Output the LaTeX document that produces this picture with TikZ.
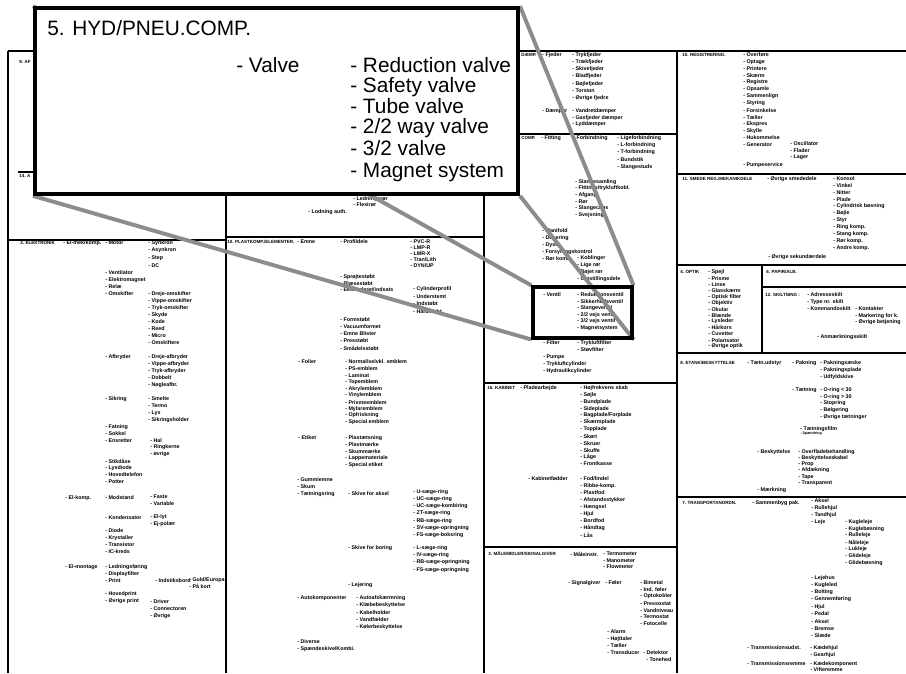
\documentclass[tikz,border=0pt]{standalone}
\usepackage{fontspec}
\setmainfont{Liberation Sans}
\usepackage{tikz}
\usetikzlibrary{positioning}
\definecolor{LinkGray}{RGB}{140,140,140}
\pgfdeclarelayer{links}
\pgfdeclarelayer{front}
\pgfsetlayers{main,links,front}

% one column of list entries: prefix, x, first y, step, items
\newcommand{\entries}[5]{%
  \foreach \e [count=\k from 0] in {#5}
    \node[entry] (#1\k) at (#2,{#3+#4*\k}) {- \e};%
}

\begin{document}
\begin{tikzpicture}[x=0.025cm, y=-0.025cm,
    entry/.style={anchor=west, inner sep=0pt, font=\fontsize{3.8}{4}\selectfont\bfseries},
    head/.style={entry, font=\fontsize{3.2}{3.6}\selectfont\bfseries},
    pageline/.style={line width=0.9pt},
    zoombox/.style={draw, line width=2.6pt, fill=white,
        minimum width=12.08cm, minimum height=4.65cm},
    valvebox/.style={draw, line width=2.2pt, minimum width=2.475cm, minimum height=1.275cm},
    link/.style={line width=2.8pt, LinkGray},
    big/.style={anchor=base west, inner sep=0pt, font=\fontsize{14.8}{16}\selectfont},
]
\useasboundingbox (0,0) rectangle (906,673);
\clip (0,0) rectangle (906,673);

% page frame and section rules
\draw[pageline, line width=1.8pt] (8,51) -- (906,51);
\draw[pageline, line width=1.4pt] (8,51) -- (8,673);
\draw[pageline] (226,51) -- (226,673);
\draw[pageline] (484,51) -- (484,673);
\draw[pageline] (677,51) -- (677,673);
\draw[pageline] (18,172) -- (226,172);
\draw[pageline] (8,240) -- (226,240);
\draw[pageline] (226,237) -- (484,237);
\draw[pageline] (484,134) -- (677,134);
\draw[pageline] (484,383) -- (677,383);
\draw[pageline] (484,547) -- (677,547);
\draw[pageline] (677,174) -- (906,174);
\draw[pageline] (677,265) -- (906,265);
\draw[pageline] (762,265) -- (762,353);
\draw[pageline] (762,287) -- (906,287);
\draw[pageline] (677,353) -- (906,353);
\draw[pageline] (677,497) -- (906,497);

% column 1
\node[head] (c1a) at (19,62) {9. AF};
\node[head] (c1b) at (19,176) {14. A};
\node[head] (c1c) at (20,243) {2. ELEKTRONIK};
\node[entry] (c1d) at (63,243) {- El-mek/komp.};
\node[entry] (c1e) at (105,243) {- Motor};
\entries{ma}{148}{243}{7.6}{Synkron, Asynkron, Step, DC}
\entries{mb}{105}{273}{7}{Ventilator, Elektromagnet, Relæ, Omskifter}
\entries{mc}{148}{294}{7}{Dreje-omskifter, Vippe-omskifter, Tryk-omskifter, Skyde, Kode, Reed, Micro, Omskiftere}
\node[entry] (c1f) at (105,357) {- Afbryder};
\entries{md}{148}{357}{7}{Dreje-afbryder, Vippe-afbryder, Tryk-afbryder, Dobbelt, Nøgleafbr.}
\node[entry] (c1g) at (105,399) {- Sikring};
\entries{me}{148}{399}{7}{Smelte, Termo, Lys, Sikringsholder}
\entries{mf}{105}{427}{7}{Fatning, Sokkel, Ensretter}
\entries{mg}{150}{441}{6.5}{Hal, Ringkerne, øvrige}
\entries{mh}{105}{461}{7}{Stikdåse, Lysdiode, Hovedtelefon, Potter}
\node[entry] (c1h) at (65,498) {- El-komp.};
\node[entry] (c1i) at (105,498) {- Modstand};
\entries{mi}{150}{497}{6.5}{Faste, Variable}
\node[entry] (c1j) at (105,518) {- Kondensator};
\entries{mj}{150}{517}{7}{El-lyt, Ej-polær}
\entries{mk}{105}{531}{7}{Diode, Krystaller, Transistor, IC-kreds}
\node[entry] (c1k) at (65,567) {- El-montage};
\entries{ml}{105}{567}{7}{Ledningsføring, Displayfilter, Print}
\node[entry] (c1l) at (155,581) {- Indstiksbord};
\entries{mm}{189}{580}{6.8}{Guld/Europa, På kort}
\entries{mn}{105}{594}{7.5}{Hovedprint, Øvrige print}
\entries{mo}{150}{602}{7}{Driver, Connectoren, Øvrige}

% column 2
\node[entry] (c2a) at (353,199) {- Ledningsrør};
\node[entry] (c2b) at (353,205) {- Flexirør};
\node[entry] (c2c) at (308,212) {- Lodning auth.};
\node[head] (c2d) at (227,242) {10. PLASTKOMP./ELEMENTER.};
\node[entry] (c2e) at (297,242) {- Emne};
\node[entry] (c2f) at (340,242) {- Profildele};
\entries{pa}{410}{242}{6}{PVC-R, LMP-R, LMR-X, Tran/Lith, DYN/UP}
\entries{pb}{340}{277}{6.2}{Sprøjtestøbt, Blæsestøbt, Ekstruderet/indsats}
\entries{pc}{413}{289}{7.5}{Cylinderprofil, Understemt, Indstøbt, Hårdstøbt}
\entries{pd}{340}{320}{7}{Formstøbt, Vacuumformet, Emne Blister, Presstøbt, Smådelsstøbt}
\node[entry] (c2g) at (298,362) {- Folier};
\entries{pe}{345}{362}{6.7}{Normal/selvkl. emblem, PS-emblem, Laminat, Topemblem, Akrylemblem, Vinylemblem, Prismeemblem, Mylaremblem, Opfriskning, Special emblem}
\node[entry] (c2h) at (298,438) {- Etiket};
\entries{pf}{345}{438}{6.8}{Plastætsning, Plastmærke, Skummærke, Lappemateriale, Special etiket}
\entries{pg}{297}{480}{7}{Gummiemne, Skum, Tætningsring}
\node[entry] (c2i) at (348,494) {- Skive for aksel};
\entries{ph}{413}{492}{7.2}{U-sæge-ring, UC-sæge-ring, UC-sæge-kombiring, ZT-sæge-ring, RB-sæge-ring, SV-sæge-opringning, FS-sæge-boksring}
\node[entry] (c2j) at (348,548) {- Skive for boring};
\entries{pi}{413}{548}{7.3}{L-sæge-ring, IV-sæge-ring, RB-sæge-opringning, FS-sæge-opringning}
\node[entry] (c2k) at (348,585) {- Lejering};
\node[entry] (c2l) at (297,598) {- Autokomponenter};
\entries{pj}{356}{598}{7.2}{Autoafskærmning, Klæbebeskyttelse, Kabelholder, Vandfælder, Kølerbeskyttelse}
\entries{pk}{297}{642}{7}{Diverse, Spændeskive/Kombi.}

% column 3
\node[head] (c3a) at (521,55) {DÆMP.};
\node[entry] (c3b) at (542,55) {- Fjeder};
\entries{fa}{572}{55}{7.2}{Trykfjeder, Trækfjeder, Skivefjeder, Bladfjeder, Bøjlefjeder, Torsion, Øvrige fjedre}
\node[entry] (c3c) at (542,111) {- Dæmper};
\entries{fb}{572}{111}{6.7}{Vandretdæmper, Gasfjeder dæmper, Lyddæmper}
\node[head] (c3d) at (521,138) {COMP.};
\node[entry] (c3e) at (541,138) {- Fitting};
\node[entry] (c3f) at (573,138) {- Forbindning};
\entries{fc}{617}{138}{7.2}{Ligeforbindning, L-forbindning, T-forbindning, Bundstik, Slangestuds}
\entries{fd}{575}{182}{6.6}{Slangesamling, Fittings/trykluftkobl., Afgang, Rør, Slangeclips, Svejsning}
\entries{fe}{542}{231}{6.9}{Manifold, Dosering, Dyse, Forsyningskontrol, Rør komb.}
\entries{ff}{577}{258}{7}{Koblinger, Lige rør, Bøjet rør, Omstillingsdele}
\node[entry] (c3g) at (543,295) {- Ventil};
\entries{fg}{577}{295}{6.6}{Reduktionsventil, Sikkerhedsventil, Slangeventil, 2/2 vejs ventil, 3/2 vejs ventil, Magnetsystem}
\node[entry] (c3h) at (543,343) {- Filter};
\entries{fh}{577}{343}{7}{Trykluftfilter, Støvfilter}
\entries{fi}{543}{357}{7}{Pumpe, Trykluftcylinder, Hydraulikcylinder}
\node[head] (c3i) at (487,388) {16. KABINET};
\node[entry] (c3j) at (520,388) {- Pladearbejde};
\entries{fj}{580}{388}{6.9}{Højfrekvens skab, Søjle, Bundplade, Sideplade, Bagplade/Forplade, Skærmplade, Topplade, Skørt, Skruer, Skuffe, Låge, Frontkasse}
\node[entry] (c3k) at (528,479) {- Kabinetfødder};
\entries{fk}{580}{479}{7}{Fod/lindel, Ribbe-komp., Plastfod, Afstandsstykker, Hængsel, Hjul, Bordfod, Håndtag, Lås}
\node[head] (c3l) at (488,554) {3. MÅLEMIDLER/SIGNALGIVER};
\node[entry] (c3m) at (570,554) {- Måleinstr.};
\entries{fl}{603}{554}{6.5}{Termometer, Manometer, Flowmeter}
\node[entry] (c3n) at (568,583) {- Signalgiver};
\node[entry] (c3o) at (605,583) {- Føler};
\entries{fm}{640}{583}{6.8}{Bimetal, Ind. føler, Optokobler, Pressostat, Vandniveau, Termostat, Fotocelle}
\entries{fn}{607}{632}{7}{Alarm, Højttaler, Tæller, Transducer}
\node[entry] (c3p) at (643,653) {- Detektor};
\node[entry] (c3q) at (646,660) {- Tonehed};

% column 4
\node[head] (c4a) at (682,55) {10. REGISTRERING.};
\entries{ra}{743}{55}{6.9}{Overføre, Optage, Printere, Skærm, Registre, Opsamle, Sammenlign, Styring, Forsinkelse, Tæller, Ekspres, Skylle, Hukommelse, Generator}
\entries{rb}{790}{144}{6.8}{Oscillator, Flader, Lager}
\node[entry] (c4b) at (743,165) {- Pumpeservice};
\node[head] (c4c) at (682,179) {11. SMEDE REG./MEKANIKDELE};
\node[entry] (c4d) at (767,179) {- Øvrige smededele};
\entries{sa}{833}{179}{6.9}{Konsol, Vinkel, Nitter, Plade, Cylindrisk bøsning, Bøjle, Styr, Ring komp., Stang komp., Rør komp., Andre komp.}
\node[entry] (c4e) at (768,257) {- Øvrige sekundærdele};
\node[head] (c4f) at (680,272) {4. OPTIK};
\entries{oa}{708}{272}{6.2}{Spejl, Prisme, Linse, Glasskærm, Optisk filter, Objektiv, Okular, Blænde, Lysleder, Hårkors, Cuvetter, Polarisator, Øvrige optik}
\node[head] (c4g) at (766,272) {6. PAPIR/ALB.};
\node[head] (c4h) at (765,295) {12. SKILTNING :};
\entries{ka}{807}{295}{6.7}{Adresseskilt, Type nr. skilt, Kommandoskilt}
\entries{kb}{855}{309}{6.7}{Kontakter, Markering for k., Øvrige betjening}
\node[entry] (c4i) at (817,337) {- Anmærkningsskilt};
\node[head] (c4j) at (680,363) {8. ETANK/BESKYTTELSE};
\node[entry] (c4k) at (747,363) {- Tætn.udstyr};
\node[entry] (c4l) at (792,363) {- Pakning};
\entries{ta}{820}{363}{7}{Pakningsæske, Pakningsplade, Udfyldskive}
\node[entry] (c4m) at (792,390) {- Tætning};
\entries{tb}{820}{390}{6.8}{O-ring < 30, O-ring > 30, Stopring, Bølgering, Øvrige tætninger}
\node[entry] (c4n) at (800,429) {- Tætningsfilm};
\node[entry, font=\fontsize{2.6}{3}\selectfont\bfseries] (c4o) at (800,434) {- Spændring};
\node[entry] (c4p) at (757,452) {- Beskyttelse};
\entries{ba}{798}{452}{6.2}{Overfladebehandling, Beskyttelseskabel, Prop, Afdækning, Tape, Transparent}
\node[entry] (c4q) at (757,490) {- Mærkning};
\node[head] (c4r) at (682,503) {7. TRANSPORTANORDN.};
\node[entry] (c4s) at (752,503) {- Sammenbyg pak.};
\entries{aa}{811}{501}{7.2}{Aksel, Rullehjul, Tandhjul, Leje}
\entries{ab}{845}{522}{6.8}{Kugleleje, Kuglebøsning, Rulleleje, Nåleleje, Lukleje, Glideleje, Glidebøsning}
\entries{ac}{811}{578}{7.2}{Lejehus, Kugleled, Bolting, Gennemføring, Hjul, Pedal, Aksel, Bremse, Slæde}
\node[entry] (c4t) at (747,648) {- Transmissionsudst.};
\entries{ad}{810}{648}{7.5}{Kædehjul, Gearhjul}
\node[entry] (c4u) at (747,664) {- Transmissionsremme};
\entries{ae}{810}{664}{5.8}{Kædekomponent, Vifteremme}

% magnified view
\begin{pgfonlayer}{front}
\node[valvebox] (valvebox) at (582.5,312.5) {};
\node[zoombox] (zoomview) at (276.5,101) {};
\node[big] (title) at (47,35.5) {5. HYD/PNEU.COMP.};
\node[big] (valve) at (236,72.6) {- Valve};
\node[big] (v1) at (350,72.6) {- Reduction valve};
\node[big] (v2) at (350,92.5) {- Safety valve};
\node[big] (v3) at (350,113) {- Tube valve};
\node[big] (v4) at (350,133.5) {- 2/2 way valve};
\node[big] (v5) at (350,155.5) {- 3/2 valve};
\node[big] (v6) at (350,177) {- Magnet system};
\end{pgfonlayer}

\begin{pgfonlayer}{links}
\draw[link] (zoomview.north west) -- (valvebox.north west);
\draw[link] (zoomview.north east) -- (valvebox.north east);
\draw[link] (zoomview.south west) -- (valvebox.south west);
\draw[link] (zoomview.south east) -- (valvebox.south east);
\end{pgfonlayer}
\end{tikzpicture}
\end{document}
